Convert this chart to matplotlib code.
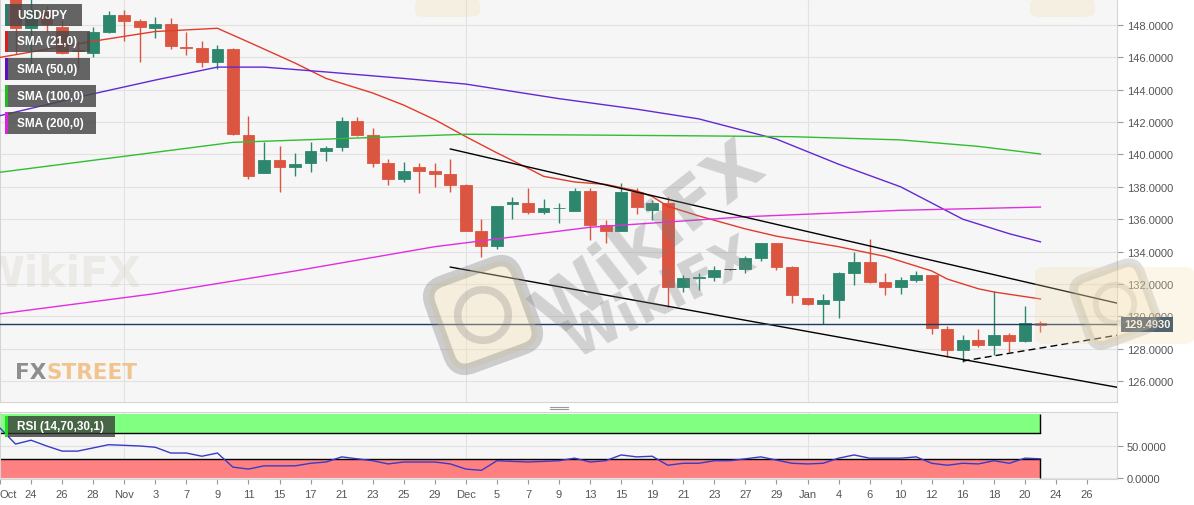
import numpy as np
import pandas as pd
import matplotlib
matplotlib.use('Agg')
import matplotlib.pyplot as plt
from matplotlib import font_manager
from matplotlib.patches import Rectangle, Ellipse, FancyBboxPatch
from matplotlib.lines import Line2D
from matplotlib.transforms import blended_transform_factory, Affine2D

# Daily USD/JPY candles
dates = pd.bdate_range('2022-10-20', '2023-01-23')
opens = [149.87, 150.15, 147.80, 148.80, 147.90, 146.45, 146.30, 147.60, 148.60, 148.25,
         147.80, 148.06, 146.65, 146.60, 145.70, 146.50, 141.20, 138.85, 139.66, 139.20,
         139.50, 140.20, 140.46, 142.07, 141.20, 139.50, 138.50, 139.20, 139.00, 138.80,
         138.10, 135.30, 134.34, 136.95, 137.00, 136.44, 136.68, 136.50, 137.74, 135.64,
         135.27, 137.70, 136.56, 137.00, 131.80, 132.38, 132.40, 132.90, 132.90, 133.60,
         134.50, 133.04, 131.10, 130.75, 131.00, 132.70, 133.35, 132.10, 131.80, 132.24,
         132.55, 129.20, 127.90, 128.53, 128.20, 128.84, 128.47, 129.60]
highs = [150.29, 151.94, 149.70, 149.20, 148.30, 147.00, 147.85, 148.85, 148.90, 148.40,
         148.50, 148.45, 147.60, 147.00, 146.75, 146.60, 142.40, 140.75, 140.50, 140.10,
         140.75, 140.50, 142.30, 142.30, 141.65, 139.70, 139.55, 139.50, 139.45, 139.70,
         138.15, 136.00, 136.80, 137.40, 137.90, 137.25, 137.00, 137.90, 137.90, 135.95,
         138.25, 137.90, 137.20, 137.40, 132.55, 132.70, 133.10, 132.95, 133.70, 134.50,
         134.50, 133.10, 131.10, 131.40, 132.75, 134.00, 134.77, 132.65, 132.45, 132.80,
         132.55, 129.40, 128.85, 129.20, 131.56, 128.97, 130.63, 129.72]
lows = [149.69, 146.23, 145.60, 147.60, 146.20, 145.20, 146.00, 147.50, 147.00, 145.70,
        147.20, 146.50, 146.15, 145.40, 145.30, 141.20, 138.50, 138.85, 137.70, 138.70,
        138.90, 139.60, 140.20, 141.15, 139.20, 138.10, 138.30, 137.60, 138.00, 137.70,
        135.25, 133.66, 134.15, 136.00, 136.30, 136.35, 135.75, 136.50, 134.70, 134.55,
        135.27, 136.35, 135.95, 130.60, 131.50, 131.65, 132.15, 132.85, 132.65, 133.40,
        132.85, 130.80, 130.70, 129.55, 129.90, 131.95, 132.05, 131.30, 131.40, 132.10,
        128.90, 127.50, 127.20, 128.10, 127.60, 127.80, 128.40, 129.00]
closes = [150.15, 147.80, 148.95, 148.06, 146.30, 146.40, 147.60, 148.60, 148.25, 147.90,
          148.06, 146.70, 146.60, 145.70, 146.50, 141.26, 138.70, 139.66, 139.20, 139.40,
          140.20, 140.40, 142.07, 141.20, 139.50, 138.50, 139.00, 139.00, 138.80, 138.10,
          135.30, 134.34, 136.80, 137.05, 136.44, 136.70, 136.72, 137.74, 135.64, 135.27,
          137.70, 136.75, 137.00, 131.80, 132.36, 132.42, 132.86, 132.90, 133.60, 134.50,
          133.04, 131.30, 130.75, 131.00, 132.70, 133.35, 132.10, 131.80, 132.24, 132.55,
          129.27, 127.90, 128.53, 128.20, 128.84, 128.47, 129.60, 129.49]
last_price = 129.493

# moving averages (day index, value)
sma21_days = [0, 6, 10, 14, 16, 19, 21, 24, 26, 28, 30, 32, 34, 35, 37, 39, 41, 42, 43, 45,
              48, 50, 54, 57, 58, 60, 61, 63, 64, 67]
sma21 = [146.0, 147.0, 147.6, 147.8, 146.95, 145.65, 144.7, 143.8, 143.05, 142.15, 141.1,
         140.1, 139.15, 138.65, 138.3, 138.15, 137.75, 137.4, 136.8, 136.2, 135.4, 134.95,
         134.3, 133.7, 133.4, 132.8, 132.3, 131.7, 131.5, 131.07]
sma50_days = [0, 6, 10, 14, 17, 21, 26, 30, 36, 41, 45, 50, 54, 58, 62, 65, 67]
sma50 = [142.4, 143.75, 144.6, 145.4, 145.4, 145.1, 144.7, 144.35, 143.45, 142.8, 142.2,
         140.95, 139.4, 138.0, 136.0, 135.1, 134.6]
sma100_days = [0, 15, 30, 38, 45, 51, 58, 63, 67]
sma100 = [138.9, 140.75, 141.25, 141.2, 141.15, 141.1, 140.9, 140.5, 140.03]
sma200_days = [0, 10, 19, 28, 38, 48, 58, 67]
sma200 = [130.15, 131.4, 132.8, 134.3, 135.5, 136.15, 136.55, 136.75]

# channel lines drawn on the chart
upper_days, upper_vals = [29, 75], [140.34, 130.13]
lower_days, lower_vals = [29, 75], [133.04, 125.08]
support_days, support_vals = [62, 75], [127.23, 129.32]

rsi = [78, 53, 59, 50, 42, 42, 47, 52, 51, 50, 48, 39, 39, 34, 39, 17, 14, 19, 19, 19,
       23, 25, 33, 30, 27, 22, 25, 25, 25, 22, 14, 12, 27, 26, 25, 26, 27, 31, 25, 27,
       36, 33, 34, 20, 23, 23, 27, 27, 30, 33, 28, 23, 22, 23, 31, 36, 31, 31, 31, 33,
       23, 20, 23, 22, 27, 23, 31, 30]
rsi_levels = (30, 70)

date_labels = ['Oct', '24', '26', '28', 'Nov', '3', '7', '9', '11', '15', '17', '21', '23',
               '25', '29', 'Dec', '5', '7', '9', '13', '15', '19', '21', '23', '27', '29',
               'Jan', '4', '6', '10', '12', '16', '18', '20', '24', '26']
price_ticks = [126, 128, 130, 132, 134, 136, 138, 140, 142, 144, 146, 148]
legend_names = ['USD/JPY', 'SMA (21,0)', 'SMA (50,0)', 'SMA (100,0)', 'SMA (200,0)']

GREEN, RED = '#2d876e', '#dc5541'
SMA_COLORS = ['#e23b2a', '#6428d2', '#2fbf2f', '#e02ee0']
STRIPS = ['#2b7f6a', '#d42020', '#5a10c0', '#22bb22', '#dd22dd']
NAVY = '#1e3a5f'

W, H = 1194, 506
fig = plt.figure(figsize=(W / 100, H / 100), dpi=100, facecolor='white')
plt.rcParams['font.family'] = ['Liberation Sans', 'DejaVu Sans']


def px_rect(x0, y0, x1, y1):
    return [x0 / W, 1 - y1 / H, (x1 - x0) / W, (y1 - y0) / H]


ax = fig.add_axes(px_rect(0, 0, 1117, 403))
ax2 = fig.add_axes(px_rect(0, 413, 1117, 480))
x = np.arange(len(dates))
month_starts = [i for i in range(1, len(dates)) if dates[i].month != dates[i - 1].month]

for a in (ax, ax2):
    a.set_facecolor('#f6f6f6')
    for s in a.spines.values():
        s.set_color('#d4d4d4')
        s.set_linewidth(0.8)
    a.set_xlim(0, 71.93)
    for m in month_starts:
        a.axvline(m, color='#e2e2e2', lw=0.8, zorder=0)
    a.yaxis.tick_right()
    a.tick_params(axis='y', length=4, width=0.8, color='#999999', labelcolor='#555555',
                  labelsize=8, pad=3)

# --- price panel ---
ax.set_ylim(124.70, 149.61)
ax.set_yticks(price_ticks)
ax.set_yticklabels([f'{v:.4f}' for v in price_ticks])
ax.set_xticks([])
ax.grid(axis='y', color='#e2e2e2', lw=0.8, zorder=0)
ax.set_axisbelow(True)

o, h, l, c = map(np.array, (opens, highs, lows, closes))
cols = np.where(c > o, GREEN, np.where(c < o, RED, '#222222'))
ax.vlines(x, l, h, colors=cols, lw=1, zorder=3)
ax.bar(x, np.maximum(np.abs(c - o), 0.03), 0.76, bottom=np.minimum(o, c),
       color=cols, edgecolor=cols, lw=0.6, zorder=4)

for days, vals, col in zip([sma21_days, sma50_days, sma100_days, sma200_days],
                           [sma21, sma50, sma100, sma200], SMA_COLORS):
    ax.plot(days, vals, color=col, lw=1, zorder=5)

ax.plot(upper_days, upper_vals, color='black', lw=1, zorder=5)
ax.plot(lower_days, lower_vals, color='black', lw=1, zorder=5)
ax.plot(support_days, support_vals, color='black', lw=1, ls=(0, (5, 3)), zorder=5)

ax.axhline(last_price, color=NAVY, lw=1, zorder=5)
tr = blended_transform_factory(ax.transAxes, ax.transData)
ax.annotate(f'{last_price:.4f}', xy=(1, last_price), xycoords=tr, xytext=(5, 0),
            textcoords='offset points', ha='left', va='center', fontsize=8,
            fontweight='bold', color='white', zorder=10, annotation_clip=False,
            bbox=dict(boxstyle='square,pad=0.25', fc=NAVY, ec='none'))

# watermarks
wm = dict(transform=ax.transAxes, color='#7d7d7d', alpha=0.3, fontweight='bold',
          ha='center', va='center', family='DejaVu Sans', zorder=6)
ax.text(650 / 1117, 1 - 240 / 403, 'WikiFX', fontsize=50, rotation=38, **wm)
ax.text(660 / 1117, 1 - 298 / 403, 'WikiFX', fontsize=38, rotation=27, **wm)
ax.text(60 / 1117, 1 - 275 / 403, 'WikiFX', transform=ax.transAxes, fontsize=30,
        color='#c8c0b0', alpha=0.22, fontweight='bold', ha='center', va='center',
        family='DejaVu Sans', zorder=6)


def logo(cx, cy, size, alpha):
    # rotated rounded square emblem, in pixel coordinates
    rot = Affine2D().rotate_deg_around(cx, H - cy, 20)
    fig.patches.append(FancyBboxPatch((cx - size / 2, H - cy - size / 2), size, size,
                                      boxstyle=f'round,pad=0,rounding_size={size * 0.2}',
                                      transform=rot, fc=(0.96, 0.88, 0.68, alpha),
                                      ec=(0.5, 0.5, 0.5, alpha), lw=size * 0.09, zorder=4))
    fig.patches.append(Ellipse((cx, H - cy), size * 0.55, size * 0.55, transform=rot,
                               fill=False, ec=(0.5, 0.5, 0.5, alpha * 0.8), lw=size * 0.06,
                               zorder=4))


logo(483, 316, 92, 0.35)
logo(1115, 305, 70, 0.25)

names = {f.name for f in font_manager.fontManager.ttflist}
narrow = 'Liberation Sans Narrow' in names
logo_family = 'Liberation Sans Narrow' if narrow else 'DejaVu Sans'
logo_size = 19 if narrow else 15.5
fx = ax.text(15 / 1117, 1 - 383 / 403, 'FX', transform=ax.transAxes, fontsize=logo_size,
             fontweight='bold', color='#8e8e8e', family=logo_family, va='bottom', zorder=6)
ax.annotate('STREET', xy=(1, 0), xycoords=fx, fontsize=logo_size, fontweight='bold',
            color='#f2c48d', family=logo_family, va='bottom', zorder=6)

# --- RSI panel ---
ax2.set_ylim(-1.5, 103)
ax2.set_yticks([0, 50])
ax2.set_yticklabels(['0.0000', '50.0000'])
ax2.grid(axis='y', color='#e2e2e2', lw=0.8, zorder=0)
band_end = x[-1]
ax2.fill_between([0, band_end], rsi_levels[1], 100, color='#80ff80', lw=0, zorder=1)
ax2.fill_between([0, band_end], 0, rsi_levels[0], color='#ff8080', lw=0, zorder=1)
for lev in rsi_levels:
    ax2.plot([0, band_end], [lev, lev], color='black', lw=1, zorder=2)
ax2.vlines([band_end, band_end], [0, rsi_levels[1]], [rsi_levels[0], 100],
           color='black', lw=1, zorder=2)
ax2.plot(x, rsi, color='#3a3ac8', lw=1, zorder=3)

ax2.set_xticks(np.arange(0, 2 * len(date_labels), 2))
ax2.set_xticklabels(date_labels)
ax2.tick_params(axis='x', length=3.5, width=0.8, color='#999999', labelcolor='#555555',
                labelsize=8, pad=4)
ax2.get_xticklabels()[0].set_ha('left')


# overlay tags
def tag(x0, y0, x1, y1, strip, text, fc='#4a4a4a', alpha=0.85):
    fig.patches.append(Rectangle((x0 / W, 1 - y1 / H), (x1 - x0) / W, (y1 - y0) / H,
                                 transform=fig.transFigure, fc=fc, alpha=alpha, ec='none',
                                 zorder=5))
    fig.patches.append(Rectangle((x0 / W, 1 - y1 / H), 3 / W, (y1 - y0) / H,
                                 transform=fig.transFigure, fc=strip, ec='none', zorder=6))
    fig.text((x0 + 12) / W, 1 - (y0 + y1) / 2 / H, text, color='white', fontsize=8.5,
             fontweight='bold', va='center', zorder=7)


tag_boxes = [(5, 5, 82, 27), (5, 32, 90, 53), (5, 59, 90, 81), (5, 86, 96, 108), (5, 113, 96, 135)]
for (x0, y0, x1, y1), strip, name in zip(tag_boxes, STRIPS, legend_names):
    tag(x0, y0, x1, y1, strip, name)
tag(5, 417, 115, 438, '#22dd22', 'RSI (14,70,30,1)', fc='#333333', alpha=0.75)

# faint logo blobs
for bx, by, bw, bh in [(1035, 268, 159, 77), (415, 0, 65, 18), (1030, 0, 65, 18)]:
    fig.patches.append(FancyBboxPatch((bx / W, 1 - (by + bh) / H), bw / W, bh / H,
                                      boxstyle='round,pad=0,rounding_size=0.01',
                                      transform=fig.transFigure, fc='#f5dca8', alpha=0.25,
                                      ec='none', zorder=4))

# panel drag handle
for yy in (407.5, 410):
    fig.add_artist(Line2D([550 / W, 568 / W], [1 - yy / H] * 2, color='#999999', lw=0.8))

fig.savefig('out.png', dpi=100, facecolor='white')
